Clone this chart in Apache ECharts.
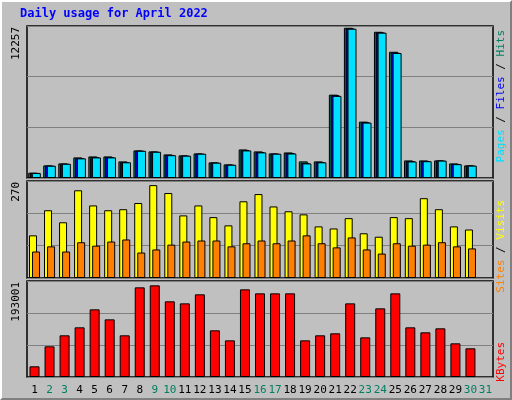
<!DOCTYPE html>
<html>
<head>
<meta charset="utf-8">
<script src="https://cdn.jsdelivr.net/npm/echarts@6/dist/echarts.min.js"></script>
<style>
body{margin:0;background:#fff}
#frame{position:absolute;left:0;top:0;width:508px;height:396px;background:#c0c0c0;border-top:2px solid #fff;border-left:2px solid #fff;border-right:2px solid #808080;border-bottom:2px solid #808080}
#main{width:508px;height:396px}
</style>
</head>
<body>
<div id="frame"><div id="main"></div></div>
<script>
var days = [];
for (var i = 1; i <= 31; i++) days.push(String(i));
var weekend = ['2','3','9','10','16','17','23','24','30','31'];

var hits  = [433,1030,1190,1680,1760,1760,1355,2250,2170,1925,1845,2005,1275,1110,2330,2170,2005,2085,1355,1355,6800,12257,4600,11930,10300,1435,1435,1435,1190,1030];
var files = [420,1010,1170,1620,1710,1710,1300,2230,2150,1880,1830,1990,1260,1090,2280,2120,1990,2040,1230,1300,6750,12200,4550,11880,10230,1375,1390,1430,1150,1020];
var pages = [410,1000,1160,1600,1680,1680,1280,2220,2140,1860,1820,1980,1250,1080,2250,2090,1980,2000,1190,1280,6700,12180,4520,11860,10200,1350,1370,1420,1130,1010];
var visits = [124,197,162,255,211,197,200,218,270,247,182,211,177,153,223,244,208,194,185,150,144,174,130,120,177,174,232,200,150,141];
var sites  = [77,92,77,104,94,106,112,74,83,97,106,109,109,92,101,109,101,109,124,101,89,118,83,71,101,94,97,104,92,86];
var kbytes = [22500,64600,87800,104600,142500,121400,87800,188800,193001,159400,155100,174100,98300,77200,184600,176200,176200,176200,77200,87800,92000,155100,83500,144600,176200,104600,94100,102500,70900,60400];

var chart = echarts.init(document.getElementById('main'));
var mono = 'DejaVu Sans Mono';
var grids = [
  {left: 25, right: 17, top: 24, height: 152},
  {left: 25, right: 17, top: 179, height: 97},
  {left: 25, right: 17, top: 279, height: 96}
];
var yMax = [12402, 282, 202200];
var yInt = [4134, 94, 67400];

function xAxisFor(i){
  return {
    type: 'category', gridIndex: i, data: days,
    axisLine: {show: false}, axisTick: {show: false},
    axisLabel: {
      show: i == 2, interval: 0, margin: 8, fontFamily: mono, fontSize: 11,
      color: function(v){ return weekend.indexOf(v) >= 0 ? '#008060' : '#000'; }
    }
  };
}
function yAxisFor(i){
  return {
    type: 'value', gridIndex: i, min: 0, max: yMax[i], interval: yInt[i],
    axisLabel: {show: false}, axisLine: {show: false}, axisTick: {show: false},
    splitLine: {lineStyle: {color: '#808080', width: 1}}
  };
}
function bar(name, data, idx, color, w, gap){
  return {
    name: name, type: 'bar', xAxisIndex: idx, yAxisIndex: idx, data: data,
    barWidth: w, barGap: gap, animation: false,
    itemStyle: {color: color, borderColor: '#000', borderWidth: 1}
  };
}

option = {
  backgroundColor: '#c0c0c0',
  grid: grids.map(function(g){ return Object.assign({show: true, borderColor: '#000', borderWidth: 1.5, backgroundColor: '#c0c0c0'}, g); }),
  xAxis: [xAxisFor(0), xAxisFor(1), xAxisFor(2)],
  yAxis: [yAxisFor(0), yAxisFor(1), yAxisFor(2)],
  series: [
    bar('Hits', hits, 0, '#008060', 9, '-80%'),
    bar('Files', files, 0, '#0000ff', 9, '-80%'),
    bar('Pages', pages, 0, '#00e0ff', 9, '-80%'),
    bar('Visits', visits, 1, '#ffff00', 8, '-62%'),
    bar('Sites', sites, 1, '#ff8000', 8, '-62%'),
    bar('KBytes', kbytes, 2, '#ff0000', 10, '0%')
  ],
  graphic: [
    {type: 'text', left: 18, top: 6, style: {text: 'Daily usage for April 2022', fill: '#0000ff', font: 'bold 12px "DejaVu Sans Mono"'}},
    {type: 'text', x: 14, y: 25, rotation: Math.PI / 2, style: {text: '12257', fill: '#000', font: '11px "DejaVu Sans Mono"', align: 'right', verticalAlign: 'middle'}},
    {type: 'text', x: 14, y: 180, rotation: Math.PI / 2, style: {text: '270', fill: '#000', font: '11px "DejaVu Sans Mono"', align: 'right', verticalAlign: 'middle'}},
    {type: 'text', x: 14, y: 280, rotation: Math.PI / 2, style: {text: '193001', fill: '#000', font: '11px "DejaVu Sans Mono"', align: 'right', verticalAlign: 'middle'}},
    {type: 'text', x: 499, y: 28, rotation: Math.PI / 2, style: {
      text: '{p|Pages} / {f|Files} / {h|Hits}', align: 'right', verticalAlign: 'middle', font: '11px "DejaVu Sans Mono"', fill: '#000',
      rich: {p: {fill: '#00e0ff', font: '11px "DejaVu Sans Mono"'}, f: {fill: '#0000ff', font: '11px "DejaVu Sans Mono"'}, h: {fill: '#008060', font: '11px "DejaVu Sans Mono"'}}
    }},
    {type: 'text', x: 499, y: 198, rotation: Math.PI / 2, style: {
      text: '{s|Sites} / {v|Visits}', align: 'right', verticalAlign: 'middle', font: '11px "DejaVu Sans Mono"', fill: '#000',
      rich: {s: {fill: '#ff8000', font: '11px "DejaVu Sans Mono"'}, v: {fill: '#ffff00', font: '11px "DejaVu Sans Mono"'}}
    }},
    {type: 'text', x: 499, y: 340, rotation: Math.PI / 2, style: {text: 'KBytes', fill: '#ff0000', font: '11px "DejaVu Sans Mono"', align: 'right', verticalAlign: 'middle'}}
  ]
};
chart.setOption(option);
</script>
</body>
</html>
